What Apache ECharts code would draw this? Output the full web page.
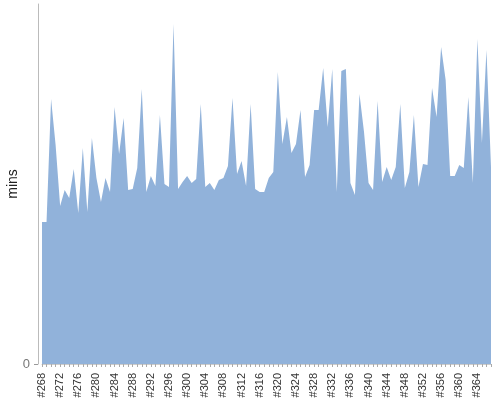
<!DOCTYPE html>
<html>
<head>
<meta charset="utf-8">
<script src="https://cdn.jsdelivr.net/npm/echarts@6/dist/echarts.min.js"></script>
<style>html,body{margin:0;padding:0;background:#fff}#c{width:500px;height:400px}</style>
</head>
<body>
<div id="c"></div>
<script>
var firstBuild = 268;
var buildCount = 100;
var categories = [];
for (var k = 0; k < buildCount; k++) categories.push('#' + (firstBuild + k));

var mins = [
  142, 142, 265, 219, 158, 174, 166, 195, 151, 216,
  152, 226, 186, 162, 186, 172, 257, 210, 246, 174,
  175, 196, 275, 172, 188, 178, 249, 180, 177, 340,
  175, 182, 188, 181, 185, 260, 177, 181, 174, 184,
  186, 198, 266, 190, 203, 178, 260, 175, 172, 172,
  186, 192, 292, 220, 247, 211, 220, 254, 187, 199,
  254, 254, 296, 237, 295, 172, 293, 295, 181, 169,
  270, 232, 181, 174, 263, 182, 197, 184, 197, 260,
  176, 192, 249, 177, 200, 199, 276, 247, 317, 284,
  188, 188, 199, 196, 267, 181, 325, 221, 314, 197
];
var yMax = 360;
var yLabelValues = [0];

var chart = echarts.init(document.getElementById('c'), null, {renderer: 'canvas'});
chart.setOption({
  animation: false,
  textStyle: {fontFamily: 'Liberation Sans, Arial, sans-serif'},
  grid: {left: 42, right: 9, top: 4, bottom: 36, containLabel: false, outerBoundsMode: 'none'},
  xAxis: {
    type: 'category',
    data: categories,
    boundaryGap: false,
    offset: 4,
    axisLine: {lineStyle: {color: '#cccccc', width: 1}},
    axisTick: {show: true, interval: 0, length: 3, lineStyle: {color: '#aaaaaa'}},
    axisLabel: {interval: 3, rotate: 90, fontSize: 11, color: '#333', margin: 5}
  },
  yAxis: {
    type: 'value',
    min: 0,
    max: yMax,
    offset: 4,
    name: 'mins',
    nameLocation: 'middle',
    nameGap: 18,
    nameMoveOverlap: false,
    nameTextStyle: {fontSize: 14, color: '#222'},
    splitLine: {show: false},
    axisLine: {show: true, lineStyle: {color: '#bbbbbb'}},
    axisTick: {show: true, length: 4, customValues: yLabelValues, lineStyle: {color: '#999'}},
    axisLabel: {customValues: yLabelValues, fontSize: 13, color: '#777', margin: 8}
  },
  series: [{
    type: 'line',
    data: mins,
    showSymbol: false,
    symbol: 'none',
    lineStyle: {width: 0},
    areaStyle: {color: '#91b2da', opacity: 1}
  }]
});
</script>
</body>
</html>
